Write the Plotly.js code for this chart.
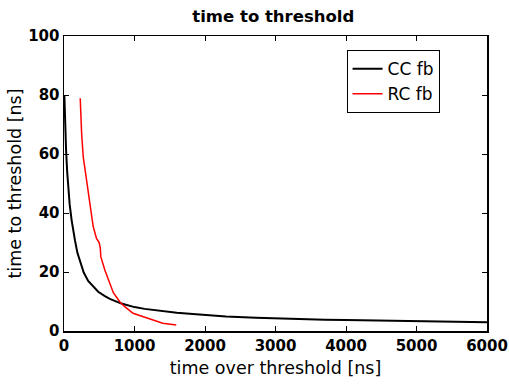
<!DOCTYPE html>
<html><head><meta charset="utf-8">
<script src="https://cdn.plot.ly/plotly-3.0.1.min.js"></script>
<style>html,body{margin:0;padding:0;background:#fff}#chart{width:509px;height:385px}</style>
</head><body><div id="chart"></div>
<script>
const ccX = [5, 10, 20, 30, 45, 61, 80, 108, 130, 155, 190, 226, 280, 343, 414, 485, 580, 650, 815, 885, 1000, 1144, 1356, 1600, 1827, 2100, 2298, 2722, 3200, 3700, 4000, 4500, 5000, 5500, 6000];
const ccY = [80, 75, 67, 61, 54, 47.8, 43, 37.6, 34, 30.8, 26.5, 23.5, 19.8, 17, 15, 13.3, 11.8, 10.9, 9.3, 8.8, 8.1, 7.5, 6.8, 6.2, 5.8, 5.3, 4.9, 4.5, 4.1, 3.8, 3.7, 3.5, 3.3, 3.1, 3.0];
const rcX = [230, 238, 250, 273, 343, 414, 461, 500, 515, 522, 579, 650, 700, 791, 850, 979, 1050, 1262, 1400, 1592];
const rcY = [78.9, 74, 67, 59, 47.8, 35.4, 31.4, 29.9, 28, 25.2, 20.7, 16, 13, 9.9, 8.5, 6.0, 5.4, 3.5, 2.6, 2.0];
const names = ['CC fb', 'RC fb'];
const xTicks = [0, 1000, 2000, 3000, 4000, 5000, 6000];
const yTicks = [0, 20, 40, 60, 80, 100];

const font = 'DejaVu Sans, sans-serif';
const data = [
  {x: ccX, y: ccY, name: names[0], type: 'scatter', mode: 'lines', line: {color: '#000000', width: 2}},
  {x: rcX, y: rcY, name: names[1], type: 'scatter', mode: 'lines', line: {color: '#ff0000', width: 1.5}}
];
const axisCommon = {
  showgrid: false, zeroline: false, showline: true, mirror: 'ticks',
  linecolor: '#000', linewidth: 1.5, ticks: 'inside', ticklen: 5, tickcolor: '#000', tickwidth: 1,
  ticklabeloverflow: 'allow',
  tickfont: {family: font, size: 15, color: '#000', weight: 'bold'}
};
const layout = {
  width: 509, height: 385,
  margin: {l: 64, r: 22, t: 36, b: 54},
  paper_bgcolor: '#fff', plot_bgcolor: '#fff',
  title: {text: '<b>time to threshold</b>', font: {family: font, size: 16.5, color: '#000'}, x: 0.537, xanchor: 'center', y: 0.958, yanchor: 'middle'},
  xaxis: Object.assign({}, axisCommon, {range: [0, 6000], tickvals: xTicks,
    title: {text: 'time over threshold [ns]', font: {family: font, size: 17.5, color: '#000'}, standoff: 8}}),
  yaxis: Object.assign({}, axisCommon, {range: [0, 100], tickvals: yTicks,
    title: {text: 'time to threshold [ns]', font: {family: font, size: 17.5, color: '#000'}, standoff: 2}}),
  legend: {x: 0.668, y: 0.952, xanchor: 'left', yanchor: 'top', bgcolor: '#fff', bordercolor: '#000', borderwidth: 1,
    font: {family: font, size: 17, color: '#000'}, tracegroupgap: 0},
  showlegend: true
};
Plotly.newPlot('chart', data, layout, {displayModeBar: false, staticPlot: true});
</script></body></html>
